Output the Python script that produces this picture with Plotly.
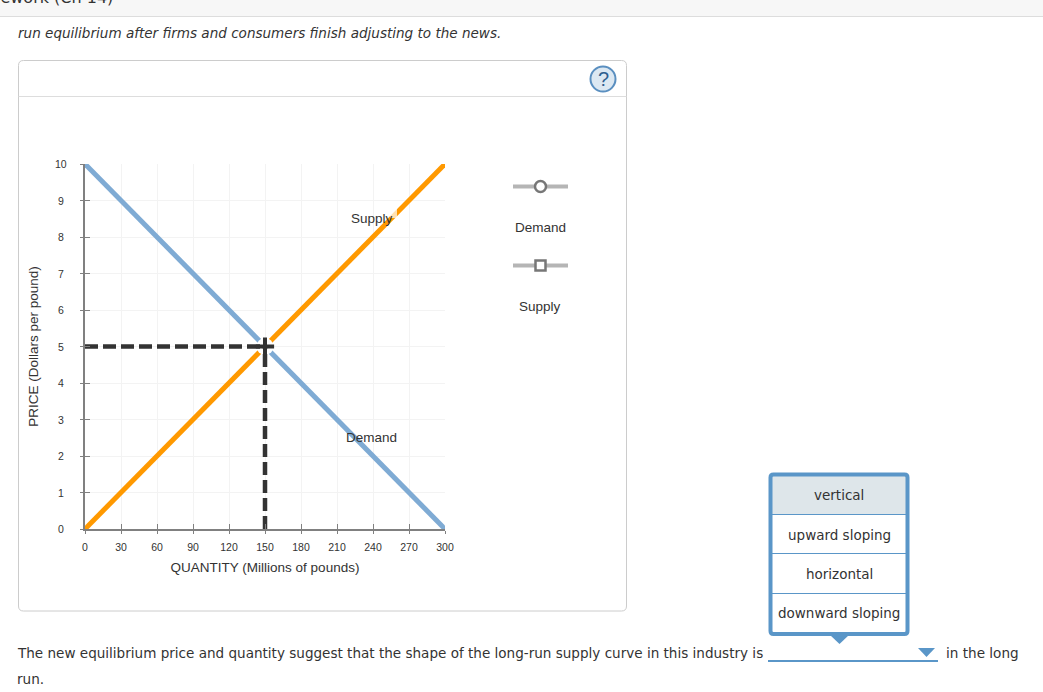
#!/usr/bin/env python3
"""Long-run equilibrium graph with the surrounding homework page"""

import plotly.graph_objects as go

W = 1043
H = 692

# plot area on the page, in pixels
LEFT = 85
RIGHT = 445
TOP = 164
BOTTOM = 529

# chart data
quantity_ticks = [0, 30, 60, 90, 120, 150, 180, 210, 240, 270, 300]
price_ticks = [0, 1, 2, 3, 4, 5, 6, 7, 8, 9, 10]
demand_q = [0, 300]
demand_p = [10, 0]
supply_q = [0, 300]
supply_p = [0, 10]
eq_q = [150]
eq_p = [5]
guide_h_q = [0, 150]
guide_h_p = [5, 5]
guide_v_q = [150, 150]
guide_v_p = [0, 5]

dropdown_options = ["vertical", "upward sloping", "horizontal", "downward sloping"]
option_rows = [495, 535, 574, 613]

BLUE = "#7fabd4"
ORANGE = "#ff9900"
DARK = "#333333"
AXIS = "#808080"
GRID = "#f3f3f3"
WIDGET = "#5a96c8"
PAGE_FONT = "DejaVu Sans"
CHART_FONT = "Liberation Sans"


# paper coordinates are relative to the plot area, so page pixels get converted
def px(x):
    return (x - LEFT) / (RIGHT - LEFT)


def py(y):
    return (BOTTOM - y) / (BOTTOM - TOP)


def box(x0, y0, x1, y1, **kw):
    return dict(type="rect", xref="paper", yref="paper", x0=px(x0), x1=px(x1),
                y0=py(y1), y1=py(y0), **kw)


def seg(x0, y0, x1, y1, color, width):
    return dict(type="line", xref="paper", yref="paper", x0=px(x0), x1=px(x1),
                y0=py(y0), y1=py(y1), line=dict(color=color, width=width))


def rounded(x0, y0, x1, y1, r):
    p = [f"M{px(x0 + r)},{py(y0)}", f"L{px(x1 - r)},{py(y0)}",
         f"Q{px(x1)},{py(y0)} {px(x1)},{py(y0 + r)}", f"L{px(x1)},{py(y1 - r)}",
         f"Q{px(x1)},{py(y1)} {px(x1 - r)},{py(y1)}", f"L{px(x0 + r)},{py(y1)}",
         f"Q{px(x0)},{py(y1)} {px(x0)},{py(y1 - r)}", f"L{px(x0)},{py(y0 + r)}",
         f"Q{px(x0)},{py(y0)} {px(x0 + r)},{py(y0)}Z"]
    return " ".join(p)


def triangle(x0, x1, y0, y1):
    mid = (x0 + x1) / 2
    return dict(type="path", xref="paper", yref="paper", fillcolor=WIDGET, line=dict(width=0),
                path=f"M{px(x0)},{py(y0)} L{px(x1)},{py(y0)} L{px(mid)},{py(y1)}Z")


def label(text, x, y, size=13.5, color="#333333", family=PAGE_FONT, anchor="left", italic=False):
    if italic:
        text = f"<i>{text}</i>"
    return dict(text=text, xref="paper", yref="paper", x=px(x), y=py(y), xanchor=anchor,
                yanchor="middle", showarrow=False, font=dict(size=size, color=color, family=family))


fig = go.Figure()

fig.add_trace(go.Scatter(x=demand_q, y=demand_p, mode="lines", cliponaxis=False,
                         line=dict(color=BLUE, width=5), showlegend=False))
fig.add_trace(go.Scatter(x=supply_q, y=supply_p, mode="lines", cliponaxis=False,
                         line=dict(color=ORANGE, width=5), showlegend=False))
# white gap around the crossing
fig.add_trace(go.Scatter(x=eq_q, y=eq_p, mode="markers", cliponaxis=False,
                         marker=dict(color="white", size=17, symbol="circle"), showlegend=False))
fig.add_trace(go.Scatter(x=guide_h_q, y=guide_h_p, mode="lines", cliponaxis=False,
                         line=dict(color=DARK, width=4.5, dash="13px,5px"), showlegend=False))
fig.add_trace(go.Scatter(x=guide_v_q, y=guide_v_p, mode="lines", cliponaxis=False,
                         line=dict(color=DARK, width=4.5, dash="13px,5px"), showlegend=False))
fig.add_trace(go.Scatter(x=eq_q, y=eq_p, mode="markers", cliponaxis=False,
                         marker=dict(color=DARK, size=13, symbol="cross-thin",
                                     line=dict(color=DARK, width=4)), showlegend=False))
# inner half of the tick marks
fig.add_trace(go.Scatter(x=[], y=[], xaxis="x2", yaxis="y2", showlegend=False))

shapes = [
    box(0, 0, W, 16, fillcolor="#f7f7f7", line=dict(width=0), layer="below"),
    seg(0, 16.5, W, 16.5, "#dddddd", 1),
    dict(type="path", xref="paper", yref="paper", path=rounded(18.5, 60.5, 626.5, 611, 5),
         line=dict(color="#cccccc", width=1), fillcolor="rgba(0,0,0,0)", layer="below"),
    seg(18.5, 96.5, 626.5, 96.5, "#dddddd", 1),
    # help icon
    dict(type="circle", xref="paper", yref="paper", x0=px(590.5), x1=px(615.5), y0=py(91.5), y1=py(66.5),
         fillcolor="#dce8f2", line=dict(color="#5a8fc0", width=2)),
    # legend handles
    seg(513, 186.5, 568, 186.5, "#b5b5b5", 4),
    dict(type="circle", xref="paper", yref="paper", x0=px(535), x1=px(546), y0=py(192), y1=py(181),
         fillcolor="white", line=dict(color="#777777", width=2.5)),
    seg(513, 265.5, 568, 265.5, "#b5b5b5", 4),
    box(535.5, 260.5, 545.5, 270.5, fillcolor="white", line=dict(color="#777777", width=2.5)),
    # washed out bit of the supply line beside its label
    box(390, 208, 397, 218, fillcolor="rgba(255,255,255,0.7)", line=dict(width=0)),
    # dropdown
    box(771, 475, 907, 514, fillcolor="#dee6ea", line=dict(width=0), layer="below"),
    dict(type="path", xref="paper", yref="paper", path=rounded(770.5, 474.5, 907.5, 634, 3),
         line=dict(color=WIDGET, width=4), fillcolor="rgba(0,0,0,0)"),
    seg(771, 514.5, 907, 514.5, WIDGET, 1),
    seg(771, 553.5, 907, 553.5, WIDGET, 1),
    seg(771, 593.5, 907, 593.5, WIDGET, 1),
    triangle(830, 849, 635, 644),
    triangle(918, 935, 648, 657),
    seg(768, 661, 938, 661, WIDGET, 2),
]

annotations = [
    # page title, cut off by the top of the window in the screenshot
    label("Homework (Ch 14)", -39, -2.5, size=16),
    label("run equilibrium after firms and consumers finish adjusting to the news.", 16, 33, size=13.55, italic=True),
    label("?", 603, 79, size=20, color="#2f5f8f", family=CHART_FONT, anchor="center"),
    label("Demand", 540.5, 227, size=13.5, family=CHART_FONT, anchor="center"),
    label("Supply", 540, 306, size=13.5, family=CHART_FONT, anchor="center"),
    dict(text="Supply", x=239, y=8.5, xref="x", yref="y", showarrow=False,
         font=dict(size=13.5, color=DARK, family=CHART_FONT)),
    dict(text="Demand", x=239, y=2.52, xref="x", yref="y", showarrow=False,
         font=dict(size=13.5, color=DARK, family=CHART_FONT)),
    label("The new equilibrium price and quantity suggest that the shape of the long-run supply curve in this industry is",
          15, 653, size=13.55),
    label("in the long", 944, 653, size=13.6),
    label("run.", 15, 679, size=13.6),
]
for option, row in zip(dropdown_options, option_rows):
    annotations.append(label(option, 839, row, size=13.5, anchor="center"))
# price labels are centred on each other, which axis tick labels cannot do
for price in price_ticks:
    annotations.append(dict(text=str(price), xref="paper", yref="y", x=0, y=price, xshift=-24,
                            xanchor="center", showarrow=False,
                            font=dict(size=10.5, color=DARK, family=CHART_FONT)))

fig.update_layout(
    width=W, height=H,
    margin=dict(l=LEFT, r=W - RIGHT, t=TOP, b=H - BOTTOM, pad=0),
    paper_bgcolor="white", plot_bgcolor="white",
    showlegend=False,
    shapes=shapes,
    annotations=annotations,
    xaxis=dict(
        range=[0, 300], tickvals=quantity_ticks, ticks="outside", ticklen=3, tickwidth=1, tickcolor=AXIS,
        showline=True, linecolor=AXIS, linewidth=2, gridcolor=GRID, gridwidth=1.2, zeroline=False,
        ticklabelstandoff=4, tickfont=dict(size=10.5, color=DARK, family=CHART_FONT),
        title=dict(text="QUANTITY (Millions of pounds)", standoff=11,
                   font=dict(size=13.5, color=DARK, family=CHART_FONT)),
    ),
    yaxis=dict(
        range=[0, 10], tickvals=price_ticks, ticks="outside", ticklen=3, tickwidth=1, tickcolor=AXIS,
        showline=True, linecolor=AXIS, linewidth=2, gridcolor=GRID, gridwidth=1.2, zeroline=False,
        showticklabels=False,
        title=dict(text="PRICE (Dollars per pound)", standoff=38,
                   font=dict(size=13.5, color=DARK, family=CHART_FONT)),
    ),
    xaxis2=dict(overlaying="x", matches="x", tickvals=quantity_ticks, ticks="inside", ticklen=5,
                tickcolor=AXIS, showticklabels=False, showgrid=False, zeroline=False),
    yaxis2=dict(overlaying="y", matches="y", tickvals=price_ticks, ticks="inside", ticklen=5,
                tickcolor=AXIS, showticklabels=False, showgrid=False, zeroline=False),
)

fig.write_html("out.html", config=dict(displayModeBar=False),
               post_script="document.body.style.margin='0';document.body.style.overflow='hidden';")
